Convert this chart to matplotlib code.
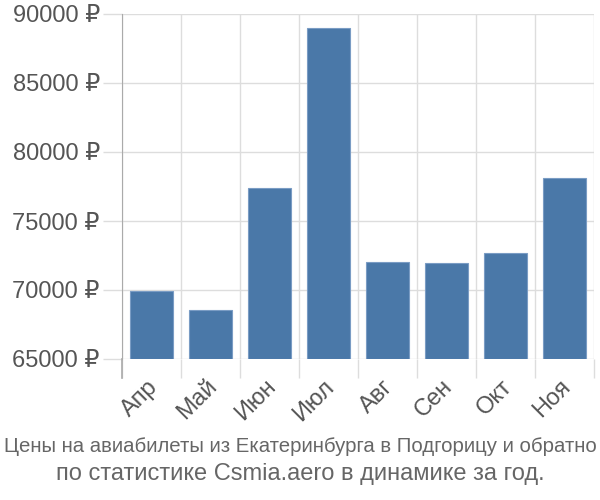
import numpy as np
import matplotlib.pyplot as plt
import matplotlib.transforms as mtransforms
from matplotlib.ticker import FixedLocator, FuncFormatter

months = ["Апр", "Май", "Июн", "Июл", "Авг", "Сен", "Окт", "Ноя"]
prices = [69900, 68550, 77400, 89000, 72050, 71950, 72650, 78100]
y_ticks = [65000, 70000, 75000, 80000, 85000, 90000]

title_line1 = "Цены на авиабилеты из Екатеринбурга в Подгорицу и обратно"
title_line2 = "по статистике Csmia.aero в динамике за год."

plt.rcParams["font.family"] = ["Liberation Sans", "DejaVu Sans"]

BAR_COLOR = "#4a78a8"
GRID_COLOR = "#dddddd"
TEXT_COLOR = "#555555"

fig = plt.figure(figsize=(6, 5), dpi=100)
ax = fig.add_axes([0.2033, 0.282, 0.7867, 0.69])

x = np.arange(len(months))
ax.bar(x, np.array(prices) - y_ticks[0], bottom=y_ticks[0], width=0.72,
       color=BAR_COLOR, edgecolor="#7a9cc4", linewidth=0.8, zorder=3)

ax.set_xlim(-0.5, len(months) - 0.5)
ax.set_ylim(y_ticks[0], y_ticks[-1])

# gridlines at category boundaries, labels in the middle
ax.xaxis.set_major_locator(FixedLocator(np.arange(len(months) + 1) - 0.5))
ax.xaxis.set_major_formatter(FuncFormatter(lambda v, p: ""))
ax.xaxis.set_minor_locator(FixedLocator(x))
ax.set_xticklabels(months, minor=True)
ax.tick_params(axis="x", which="major", length=14, color=GRID_COLOR, width=1)
ax.tick_params(axis="x", which="minor", length=0, pad=12, labelsize=17,
               labelcolor=TEXT_COLOR)
# nudge the rotated month labels a few pixels to the left
shift = mtransforms.ScaledTranslation(-5 / 100, 0, fig.dpi_scale_trans)
for lbl in ax.get_xticklabels(minor=True):
    lbl.set_rotation(45)
    lbl.set_ha("right")
    lbl.set_rotation_mode("anchor")
    lbl.set_transform(lbl.get_transform() + shift)

ax.set_yticks(y_ticks)
ax.yaxis.set_major_formatter(FuncFormatter(lambda v, p: "%d ₽" % v))
ax.tick_params(axis="y", length=14, color=GRID_COLOR, width=1, pad=2,
               labelsize=17, labelcolor=TEXT_COLOR)

ax.grid(True, color=GRID_COLOR, linewidth=1, zorder=0)
ax.set_axisbelow(True)
for side in ["top", "right", "bottom"]:
    ax.spines[side].set_visible(False)
ax.spines["left"].set_color("#aaaaaa")
ax.spines["left"].set_bounds(y_ticks[0], y_ticks[-1])
ax.axvline(-0.5, ymin=-0.055, ymax=0, color="#aaaaaa", linewidth=1.2, clip_on=False)

fig.text(0.5, 0.106, title_line1, ha="center", va="center", fontsize=14.7,
         color="#666666", family=["Liberation Sans Narrow", "Liberation Sans"])
fig.text(0.5, 0.052, title_line2, ha="center", va="center", fontsize=17,
         color="#666666")

fig.savefig("out.png", dpi=100)
